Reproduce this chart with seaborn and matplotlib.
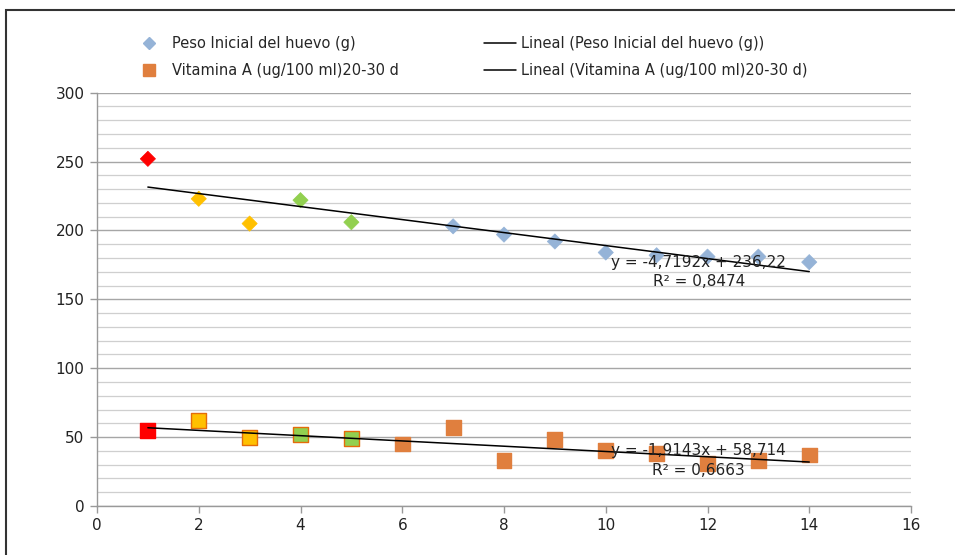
import numpy as np
import pandas as pd
import matplotlib
matplotlib.use("Agg")
import matplotlib.pyplot as plt
from matplotlib.lines import Line2D
from matplotlib.patches import Rectangle
from matplotlib.ticker import MultipleLocator
import seaborn as sns

# ---- data ----
x_peso = [1, 2, 3, 4, 5, 7, 8, 9, 10, 11, 12, 13, 14]
peso = [252, 223, 205, 222, 206, 203, 197, 192, 184, 182, 181, 181, 177]
x_vit = [1, 2, 3, 4, 5, 6, 7, 8, 9, 10, 11, 12, 13, 14]
vitamina = [55, 62, 50, 52, 49, 45, 57, 33, 48, 40, 38, 31, 33, 37]
trend_peso = (-4.7192, 236.22)
trend_vit = (-1.9143, 58.714)
eq_peso = ["y = -4,7192x + 236,22", "R² = 0,8474"]
eq_vit = ["y = -1,9143x + 58,714", "R² = 0,6663"]
name_peso = "Peso Inicial del huevo (g)"
name_vit = "Vitamina A (ug/100 ml)20-30 d"

# ---- styles ----
RED = "#FF0000"
GOLD = "#FFC000"
GREEN = "#92D050"
BLUEGRAY = "#95B3D7"
ORANGE = "#E07F3E"
EDGE_ORANGE = "#E46C0A"

def colors_for(xs, base):
    out = []
    for v in xs:
        if v == 1:
            out.append(RED)
        elif v in (2, 3):
            out.append(GOLD)
        elif v in (4, 5):
            out.append(GREEN)
        else:
            out.append(base)
    return out

sns.set_theme(style="white")
plt.rcParams["font.family"] = ["DejaVu Sans"]

fig = plt.figure(figsize=(9.55, 5.55), dpi=100)
ax = fig.add_axes([97 / 955, 1 - 506 / 555, (911 - 97) / 955, (506 - 92.7) / 555])

df_p = pd.DataFrame({"x": x_peso, "y": peso, "c": colors_for(x_peso, BLUEGRAY)})
df_v = pd.DataFrame({"x": x_vit, "y": vitamina, "c": colors_for(x_vit, ORANGE)})
v_edges = [EDGE_ORANGE if c in (GOLD, GREEN) else c for c in df_v["c"]]

sns.scatterplot(data=df_p, x="x", y="y", ax=ax, marker="D", s=60,
                c=df_p["c"].tolist(), edgecolor=df_p["c"].tolist(), linewidth=0.5, zorder=3,
                legend=False)
sns.scatterplot(data=df_v, x="x", y="y", ax=ax, marker="s", s=115,
                c=df_v["c"].tolist(), edgecolor=v_edges, linewidth=1.0, zorder=3,
                legend=False)

# trend lines
for xs, (m, b) in ((x_peso, trend_peso), (x_vit, trend_vit)):
    xx = np.array([min(xs), max(xs)], dtype=float)
    sns.lineplot(x=xx, y=m * xx + b, ax=ax, color="black", linewidth=1.1, zorder=4)

txt_kw = dict(ha="center", va="center", fontsize=11, color="#222222", zorder=5)
ax.text(11.83, 177, eq_peso[0], **txt_kw)
ax.text(11.83, 163, eq_peso[1], **txt_kw)
ax.text(11.83, 40, eq_vit[0], **txt_kw)
ax.text(11.83, 25.5, eq_vit[1], **txt_kw)

ax.set_xlim(0, 16)
ax.set_ylim(0, 300)
ax.xaxis.set_major_locator(MultipleLocator(2))
ax.yaxis.set_major_locator(MultipleLocator(50))
ax.yaxis.set_minor_locator(MultipleLocator(10))
ax.grid(True, which="major", axis="y", color="#A6A6A6", linewidth=1.0)
ax.grid(True, which="minor", axis="y", color="#CFCFCF", linewidth=0.9)
ax.set_axisbelow(True)
for s in ("top", "right"):
    ax.spines[s].set_visible(False)
for s in ("left", "bottom"):
    ax.spines[s].set_color("#999999")
    ax.spines[s].set_linewidth(1.0)
ax.tick_params(axis="both", which="major", direction="out", length=5, width=1.0,
               color="#999999", labelsize=11, labelcolor="#222222", pad=4,
               bottom=True, left=True)
ax.tick_params(axis="y", which="minor", length=0)
ax.set_xlabel("")
ax.set_ylabel("")

leg_kw = dict(loc="upper left", frameon=False, fontsize=10.5, labelspacing=0.85,
              borderaxespad=0)
h1 = [Line2D([], [], marker="D", linestyle="none", color=BLUEGRAY, markersize=6.5),
      Line2D([], [], marker="s", linestyle="none", color=ORANGE, markersize=8.5)]
l1 = fig.legend(h1, [name_peso, name_vit], bbox_to_anchor=(136 / 955, 1 - 30 / 555),
                handlelength=1.0, handletextpad=1.1, **leg_kw)
h2 = [Line2D([], [], color="black", linewidth=1.1), Line2D([], [], color="black", linewidth=1.1)]
fig.legend(h2, ["Lineal (" + name_peso + ")", "Lineal (" + name_vit + ")"],
           bbox_to_anchor=(478 / 955, 1 - 30 / 555),
           handlelength=2.2, handletextpad=0.35, **leg_kw)

fig.patches.append(Rectangle((6 / 955, -0.1), 1.2, 1 - 10 / 555 + 0.1, transform=fig.transFigure,
                             fill=False, edgecolor="#333333", linewidth=1.5))

fig.savefig("out.png", dpi=100)
